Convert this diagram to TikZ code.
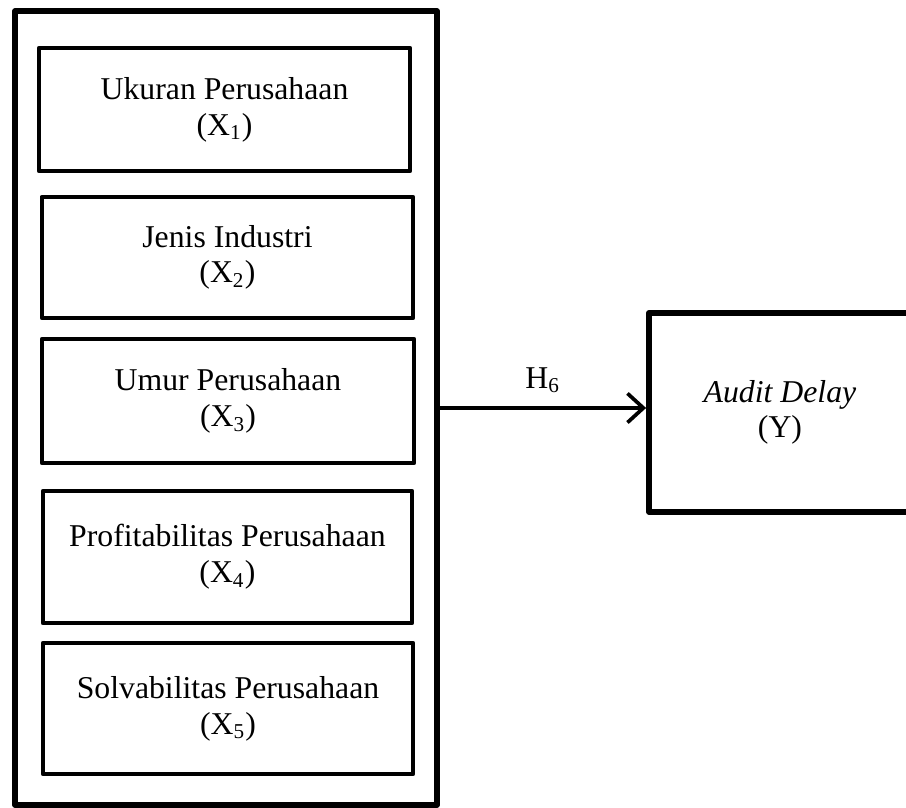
\documentclass[tikz,border=0pt]{standalone}
\usepackage{fontspec}
\setmainfont{Liberation Serif}
\usepackage{tikz}
\usetikzlibrary{arrows.meta, positioning}

\begin{document}
\begin{tikzpicture}[auto,
    every node/.style = {font=\fontsize{12}{13.5}\selectfont, align=center},
    varbox/.style = {draw, line width=1.8pt, line join=round, inner sep=0pt},
    outerbox/.style = {draw, line width=2pt, line join=round, inner sep=0pt,
                       minimum width=5.606cm, minimum height=10.548cm}]
    \useasboundingbox (0,0) rectangle (12.036,10.734);

    \node (outer) [outerbox] at (3.002,5.314) {};

    \node (x1) [varbox, minimum width=4.929cm, minimum height=1.634cm] at (2.983,9.279)
        {Ukuran Perusahaan\\(X\textsubscript{1})};
    \node (x2) [varbox, minimum width=4.929cm, minimum height=1.607cm] at (3.022,7.313)
        {Jenis Industri\\(X\textsubscript{2})};
    \node (x3) [varbox, minimum width=4.942cm, minimum height=1.647cm] at (3.029,5.407)
        {Umur Perusahaan\\(X\textsubscript{3})};
    \node (x4) [varbox, minimum width=4.902cm, minimum height=1.754cm] at (3.022,3.334)
        {Profitabilitas Perusahaan\\(X\textsubscript{4})};
    \node (x5) [varbox, minimum width=4.915cm, minimum height=1.740cm] at (3.029,1.321)
        {Solvabilitas Perusahaan\\(X\textsubscript{5})};

    \node (y) [varbox, line width=2.2pt, minimum width=3.48cm, minimum height=2.644cm] at (10.362,5.254)
        {\textit{Audit Delay}\\(Y)};

\path [-{Straight Barb[length=6pt, width=11pt, line width=1.4pt]}, line width=1.3pt]
    (outer.east) edge node [inner sep=5pt] {H\textsubscript{6}} (outer.east -| y.west);

\end{tikzpicture}
\end{document}
